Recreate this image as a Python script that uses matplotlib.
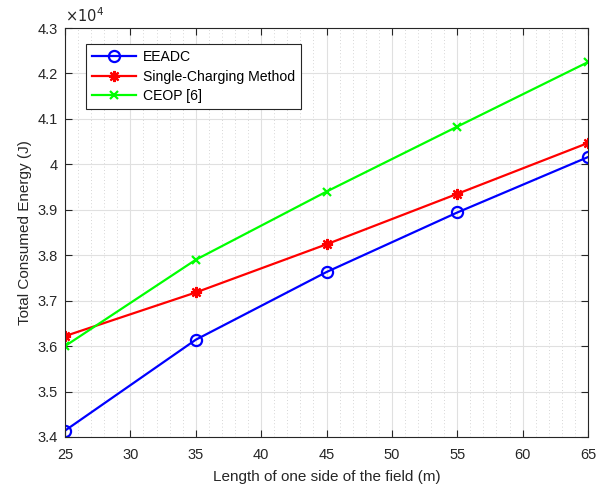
import matplotlib.pyplot as plt
from matplotlib.ticker import FuncFormatter, MultipleLocator

plt.rcParams['font.family'] = ['Liberation Sans', 'DejaVu Sans']

# field side length (m) and total consumed energy (J)
side_len = [25, 35, 45, 55, 65]
eeadc = [34140, 36140, 37630, 38940, 40160]
single_charging = [36220, 37180, 38240, 39350, 40470]
ceop = [36000, 37900, 39400, 40830, 42250]

fig = plt.figure(figsize=(5.98, 4.87), dpi=100)
ax = fig.add_axes([0.1087, 0.1027, 0.8746, 0.8398])

ax.plot(side_len, eeadc, color='#0000ff', lw=1.6, marker='o', ms=8,
        mfc='none', mew=1.6, label='EEADC')
ax.plot(side_len, single_charging, color='#ff0000', lw=1.6, marker=(8, 2, 0),
        ms=8, mew=1.6, label='Single-Charging Method')
ax.plot(side_len, ceop, color='#00ff00', lw=1.6, marker='x', ms=6,
        mew=1.6, label='CEOP [6]')

ax.set_xlim(25, 65)
ax.set_ylim(34000, 43000)
ax.xaxis.set_major_locator(MultipleLocator(5))
ax.xaxis.set_minor_locator(MultipleLocator(1))
ax.yaxis.set_major_locator(MultipleLocator(1000))
ax.yaxis.set_major_formatter(FuncFormatter(lambda v, p: f'{v / 1e4:g}'))

ax.grid(which='major', color='#e0e0e0', lw=0.8)
ax.grid(which='minor', axis='x', color='#c8c8c8', lw=0.6, ls=(0, (1, 3)))
ax.set_axisbelow(True)

edge = '#262626'
for s in ax.spines.values():
    s.set_color(edge)
    s.set_linewidth(0.8)
ax.tick_params(which='major', direction='in', length=5, width=0.8, color=edge,
               labelcolor=edge, labelsize=10.5, top=True, right=True)
ax.tick_params(axis='x', which='major', pad=8)
ax.tick_params(axis='y', which='major', pad=5)
ax.tick_params(which='minor', length=0, top=True, right=True)

ax.set_xlabel('Length of one side of the field (m)', fontsize=11, color=edge,
              labelpad=6)
ax.set_ylabel('Total Consumed Energy (J)', fontsize=11, color=edge)
ax.text(0.0, 1.008, r'$\times10^{4}$', transform=ax.transAxes, fontsize=10.5,
        color=edge, ha='left', va='bottom')

leg = ax.legend(loc='upper left', bbox_to_anchor=(0.04, 0.961), fontsize=10.1,
                handlelength=3.1, borderaxespad=0, fancybox=False,
                framealpha=1, edgecolor=edge, labelspacing=0.38,
                handletextpad=0.5, borderpad=0.45)
leg.get_frame().set_linewidth(0.8)

fig.savefig('out.png', dpi=100)
